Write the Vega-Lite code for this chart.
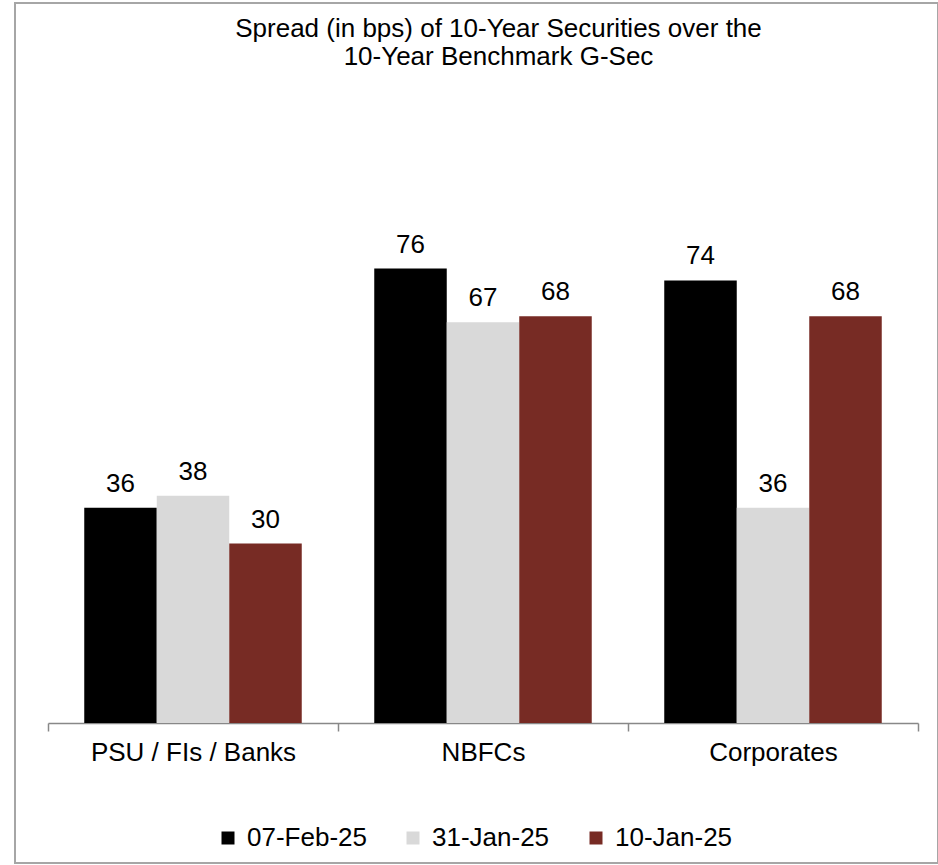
{
  "$schema": "https://vega.github.io/schema/vega-lite/v6.json",
  "width": 923,
  "height": 860,
  "autosize": "none",
  "padding": {"left": 15, "top": 3, "right": 0, "bottom": 2},
  "background": "white",
  "config": {
    "view": {"stroke": "#A6A6A6", "strokeWidth": 2},
    "font": "Liberation Sans"
  },
  "title": {
    "text": ["Spread (in bps) of 10-Year Securities over the", "10-Year Benchmark G-Sec"],
    "anchor": "middle",
    "baseline": "top",
    "offset": -67,
    "dx": 22,
    "fontSize": 26,
    "fontWeight": "normal",
    "lineHeight": 28,
    "color": "#000000",
    "font": "Liberation Sans"
  },
  "data": {
    "values": [
      {"category": "PSU / FIs / Banks", "series": "07-Feb-25", "value": 36},
      {"category": "PSU / FIs / Banks", "series": "31-Jan-25", "value": 38},
      {"category": "PSU / FIs / Banks", "series": "10-Jan-25", "value": 30},
      {"category": "NBFCs", "series": "07-Feb-25", "value": 76},
      {"category": "NBFCs", "series": "31-Jan-25", "value": 67},
      {"category": "NBFCs", "series": "10-Jan-25", "value": 68},
      {"category": "Corporates", "series": "07-Feb-25", "value": 74},
      {"category": "Corporates", "series": "31-Jan-25", "value": 36},
      {"category": "Corporates", "series": "10-Jan-25", "value": 68}
    ]
  },
  "encoding": {
    "x": {
      "field": "category",
      "type": "nominal",
      "sort": ["PSU / FIs / Banks", "NBFCs", "Corporates"],
      "scale": {"range": [33, 903], "paddingInner": 0, "paddingOuter": 0},
      "axis": {
        "title": null,
        "offset": -140,
        "labelAngle": 0,
        "labelFontSize": 26,
        "labelColor": "#000000",
        "labelPadding": 8,
        "labelLimit": 0,
        "domainColor": "#888888",
        "domainWidth": 1.5,
        "tickColor": "#888888",
        "tickWidth": 1.5,
        "tickSize": 8,
        "tickBand": "extent",
        "grid": false
      }
    },
    "xOffset": {
      "field": "series",
      "type": "nominal",
      "sort": ["07-Feb-25", "31-Jan-25", "10-Jan-25"],
      "scale": {"paddingInner": 0, "paddingOuter": 0.5}
    },
    "y": {
      "field": "value",
      "type": "quantitative",
      "scale": {"domain": [-23.41, 120.4], "nice": false, "zero": false},
      "axis": null
    }
  },
  "layer": [
    {
      "mark": {"type": "bar"},
      "encoding": {
        "y2": {"datum": 0},
        "color": {
          "field": "series",
          "type": "nominal",
          "sort": ["07-Feb-25", "31-Jan-25", "10-Jan-25"],
          "scale": {
            "domain": ["07-Feb-25", "31-Jan-25", "10-Jan-25"],
            "range": ["#000000", "#D9D9D9", "#772B24"]
          },
          "legend": {
            "title": null,
            "orient": "none",
            "direction": "horizontal",
            "legendX": 200,
            "legendY": 822,
            "symbolType": "square",
            "symbolSize": 169,
            "symbolStrokeWidth": 0,
            "labelFontSize": 26,
            "labelColor": "#000000",
            "labelOffset": 6,
            "columnPadding": 33
          }
        }
      }
    },
    {
      "mark": {"type": "text", "baseline": "bottom", "dy": -11, "fontSize": 26, "color": "#000000"},
      "encoding": {"text": {"field": "value", "type": "quantitative"}}
    }
  ]
}
